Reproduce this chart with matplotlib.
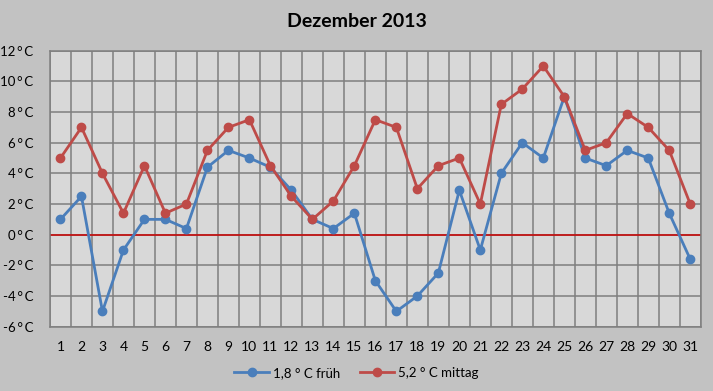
import numpy as np
import matplotlib.pyplot as plt
from matplotlib.ticker import FixedLocator

days = list(range(1, 32))
frueh = [1, 2.5, -5, -1, 1, 1, 0.4, 4.4, 5.5, 5, 4.4, 2.9, 1, 0.4, 1.4, -3,
         -5, -4, -2.5, 2.9, -1, 4, 6, 5, 9, 5, 4.5, 5.5, 5, 1.4, -1.6]
mittag = [5, 7, 4, 1.4, 4.5, 1.4, 2, 5.5, 7, 7.5, 4.5, 2.5, 1, 2.2, 4.5, 7.5,
          7, 3, 4.5, 5, 2, 8.5, 9.5, 11, 9, 5.5, 6, 7.9, 7, 5.5, 2]
yticks = [-6, -4, -2, 0, 2, 4, 6, 8, 10, 12]
label_frueh = '1,8 ° C früh'
label_mittag = '5,2 ° C mittag'

plt.rcParams['font.family'] = ['Lato', 'DejaVu Sans']

fig = plt.figure(figsize=(7.13, 3.91), dpi=100, facecolor='#c2c2c2')
ax = fig.add_axes([0.0701, 0.1645, 0.9127, 0.7058])
ax.set_facecolor('#d8d8d8')

ax.plot(days, frueh, color='#4a7ebb', lw=2, marker='o', ms=6, label=label_frueh, zorder=3)
ax.plot(days, mittag, color='#be4b48', lw=2, marker='o', ms=6, label=label_mittag, zorder=3)
ax.axhline(0, color='#cc0000', lw=1.1, zorder=2)

ax.set_xlim(0.5, 31.5)
ax.set_ylim(-6, 12)
ax.set_yticks(yticks)
ax.set_yticklabels([f'{v}\u2009°\u2009C' for v in yticks])
ax.set_xticks(days)
ax.set_xticklabels([str(d) for d in days])
ax.xaxis.set_minor_locator(FixedLocator(np.arange(0.5, 32, 1)))
ax.grid(True, which='minor', axis='x', color='#7f7f7f', lw=1.1)
ax.grid(True, which='major', axis='y', color='#7f7f7f', lw=1.1)
ax.set_axisbelow(True)
ax.tick_params(which='both', length=0)
ax.tick_params(axis='y', pad=12, labelsize=9.5)
ax.tick_params(axis='x', pad=10, labelsize=10)
for s in ax.spines.values():
    s.set_color('#7f7f7f')
    s.set_linewidth(1.1)

fig.text(0.5, 0.945, 'Dezember 2013', ha='center', va='center', fontsize=14, fontweight='bold')
fig.legend(loc='center', bbox_to_anchor=(0.5, 0.046), ncol=2, frameon=False,
           fontsize=9.5, handlelength=2.6, columnspacing=1.5, handletextpad=0.3)

fig.savefig('out.png', dpi=100, facecolor=fig.get_facecolor())
